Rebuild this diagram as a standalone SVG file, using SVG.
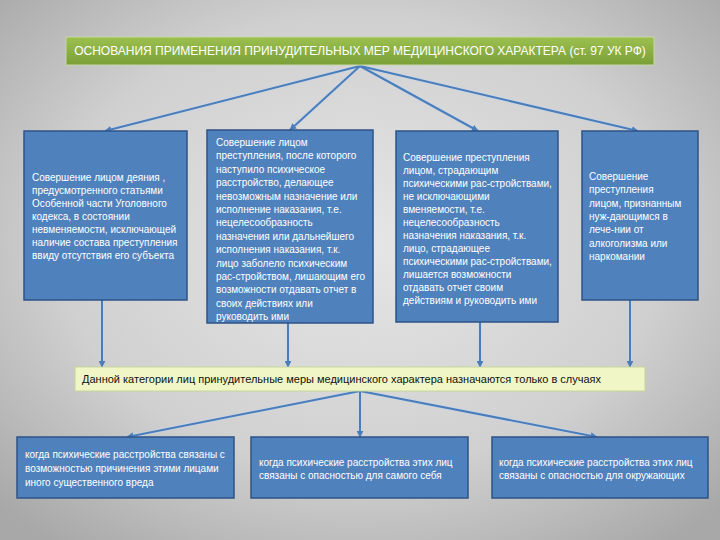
<svg xmlns="http://www.w3.org/2000/svg" width="720" height="540" viewBox="0 0 720 540">
<defs>
<radialGradient id="bg" cx="50%" cy="45%" r="70%">
<stop offset="0" stop-color="#e6e6e6"/>
<stop offset="0.6" stop-color="#d0d0d0"/>
<stop offset="1" stop-color="#a8a8a8"/>
</radialGradient>
<linearGradient id="green" x1="0" y1="0" x2="0" y2="1">
<stop offset="0" stop-color="#9cc04f"/>
<stop offset="1" stop-color="#7a9f38"/>
</linearGradient>
<marker id="ah" viewBox="0 0 10 10" refX="9" refY="5" markerWidth="3.5" markerHeight="3.5" orient="auto" markerUnits="strokeWidth">
<path d="M0,0 L10,5 L0,10 z" fill="#4a7ebb"/>
</marker>
</defs>
<style>
.box{fill:#4f81bd;stroke:#2f5386;stroke-width:1.5}
.wt{font-family:"Liberation Sans",Arial,sans-serif;font-size:10px;fill:#ffffff}
.con{stroke:#4a7ebb;stroke-width:2;fill:none;marker-end:url(#ah)}
.halo{stroke:#c9d6ea;stroke-width:4;fill:none;opacity:0.6}
</style>
<rect width="720" height="540" fill="url(#bg)"/>

<g id="connectors">
<g class="halo">
<line x1="360" y1="66" x2="105" y2="131"/>
<line x1="360" y1="66" x2="290" y2="130"/>
<line x1="360" y1="66" x2="478" y2="131"/>
<line x1="360" y1="66" x2="638" y2="131"/>
<line x1="102" y1="300" x2="102" y2="367"/>
<line x1="288" y1="322" x2="288" y2="367"/>
<line x1="480" y1="322" x2="480" y2="367"/>
<line x1="630" y1="300" x2="630" y2="367"/>
<line x1="360" y1="391" x2="127" y2="437"/>
<line x1="360" y1="391" x2="360" y2="437"/>
<line x1="360" y1="391" x2="597" y2="437"/>
</g>
<line class="con" x1="360" y1="66" x2="105" y2="131"/>
<line class="con" x1="360" y1="66" x2="290" y2="130"/>
<line class="con" x1="360" y1="66" x2="478" y2="131"/>
<line class="con" x1="360" y1="66" x2="638" y2="131"/>
<line class="con" x1="102" y1="300" x2="102" y2="367"/>
<line class="con" x1="288" y1="322" x2="288" y2="367"/>
<line class="con" x1="480" y1="322" x2="480" y2="367"/>
<line class="con" x1="630" y1="300" x2="630" y2="367"/>
<line class="con" x1="360" y1="391" x2="127" y2="437"/>
<line class="con" x1="360" y1="391" x2="360" y2="437"/>
<line class="con" x1="360" y1="391" x2="597" y2="437"/>
</g>

<g id="title">
<rect x="66" y="37" width="588" height="28" fill="url(#green)" stroke="#c8d8a8" stroke-width="1"/>
<text x="360" y="55" text-anchor="middle" font-family="Liberation Sans,Arial,sans-serif" font-size="12" fill="#ffffff">ОСНОВАНИЯ ПРИМЕНЕНИЯ ПРИНУДИТЕЛЬНЫХ МЕР МЕДИЦИНСКОГО ХАРАКТЕРА (ст. 97 УК РФ)</text>
</g>

<g id="box1">
<rect class="box" x="24" y="131" width="163" height="169"/>
<text class="wt"><tspan x="32" y="181">Совершение лицом деяния ,</tspan><tspan x="32" y="194">предусмотренного статьями</tspan><tspan x="32" y="207">Особенной части Уголовного</tspan><tspan x="32" y="220">кодекса, в состоянии</tspan><tspan x="32" y="233">невменяемости, исключающей</tspan><tspan x="32" y="246">наличие состава преступления</tspan><tspan x="32" y="259">ввиду отсутствия его субъекта</tspan></text>
</g>

<g id="box2">
<rect class="box" x="207" y="130" width="166" height="193"/>
<text class="wt"><tspan x="216" y="146">Совершение лицом</tspan><tspan x="216" y="159.4">преступления, после которого</tspan><tspan x="216" y="172.8">наступило психическое</tspan><tspan x="216" y="186.2">расстройство, делающее</tspan><tspan x="216" y="199.6">невозможным назначение или</tspan><tspan x="216" y="213">исполнение наказания, т.е.</tspan><tspan x="216" y="226.4">нецелесообразность</tspan><tspan x="216" y="239.8">назначения или дальнейшего</tspan><tspan x="216" y="253.2">исполнения наказания, т.к.</tspan><tspan x="216" y="266.6">лицо заболело психическим</tspan><tspan x="216" y="280">рас-стройством, лишающим его</tspan><tspan x="216" y="293.4">возможности отдавать отчет в</tspan><tspan x="216" y="306.8">своих действиях или</tspan><tspan x="216" y="320.2">руководить ими</tspan></text>
</g>

<g id="box3">
<rect class="box" x="396" y="131" width="162" height="191"/>
<text class="wt"><tspan x="403" y="161">Совершение преступления</tspan><tspan x="403" y="174">лицом, страдающим</tspan><tspan x="403" y="187">психическими рас-стройствами,</tspan><tspan x="403" y="200">не исключающими</tspan><tspan x="403" y="213">вменяемости, т.е.</tspan><tspan x="403" y="226">нецелесообразность</tspan><tspan x="403" y="239">назначения наказания, т.к.</tspan><tspan x="403" y="252">лицо, страдающее</tspan><tspan x="403" y="265">психическими рас-стройствами,</tspan><tspan x="403" y="278">лишается возможности</tspan><tspan x="403" y="291">отдавать отчет своим</tspan><tspan x="403" y="304">действиям и руководить ими</tspan></text>
</g>

<g id="box4">
<rect class="box" x="582" y="131" width="116" height="169"/>
<text class="wt"><tspan x="589" y="180">Совершение</tspan><tspan x="589" y="193.3">преступления</tspan><tspan x="589" y="206.6">лицом, признанным</tspan><tspan x="589" y="219.9">нуж-дающимся в</tspan><tspan x="589" y="233.2">лече-нии от</tspan><tspan x="589" y="246.5">алкоголизма или</tspan><tspan x="589" y="259.8">наркомании</tspan></text>
</g>

<g id="condition">
<rect x="75" y="367" width="570" height="24" fill="#f1f6c6" stroke="#c5d59a" stroke-width="1"/>
<text x="82" y="383" font-family="Liberation Sans,Arial,sans-serif" font-size="11" fill="#111111">Данной категории лиц принудительные меры медицинского характера назначаются только в случаях</text>
</g>

<g id="case1">
<rect class="box" x="17" y="437" width="217" height="61"/>
<text class="wt"><tspan x="25" y="458">когда психические расстройства связаны с</tspan><tspan x="25" y="472">возможностью причинения этими лицами</tspan><tspan x="25" y="486">иного существенного вреда</tspan></text>
</g>

<g id="case2">
<rect class="box" x="251" y="437" width="217" height="61"/>
<text class="wt"><tspan x="259" y="466">когда психические расстройства этих лиц</tspan><tspan x="259" y="479">связаны с опасностью для самого себя</tspan></text>
</g>

<g id="case3">
<rect class="box" x="492" y="437" width="216" height="61"/>
<text class="wt"><tspan x="499" y="466">когда психические расстройства этих лиц</tspan><tspan x="499" y="479">связаны с опасностью для окружающих</tspan></text>
</g>
</svg>
